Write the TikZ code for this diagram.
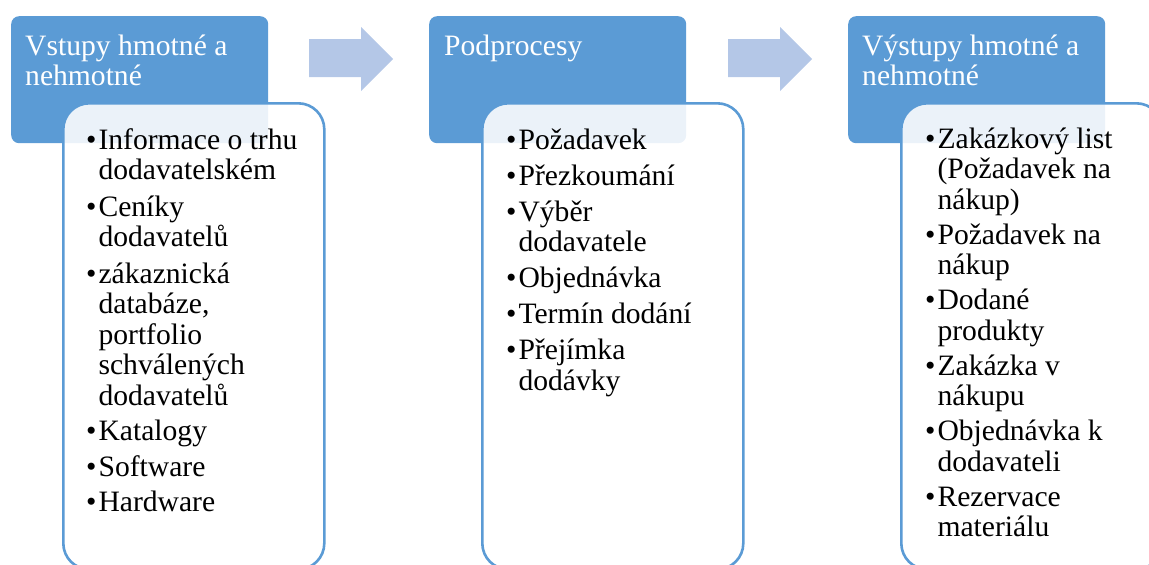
\documentclass[tikz,border=0pt]{standalone}
\usepackage{fontspec}
\setmainfont{Liberation Serif}
\definecolor{hdrblue}{HTML}{5B9BD5}
\definecolor{arrowblue}{HTML}{B4C7E7}
\newcommand\lbul{\textbullet\kern2pt}
\newcommand\lind{\phantom{\textbullet\kern2pt}}
\newcommand\firstline{\rule{0pt}{30pt}}
\tikzset{
  header/.style={draw=none, fill=hdrblue, rounded corners=8pt, anchor=north west,
    minimum width=257pt, minimum height=127pt, inner sep=0pt},
  listbox/.style={draw=hdrblue, line width=2.6pt, fill=white, fill opacity=0.88,
    rounded corners=26pt, anchor=north west, minimum width=261pt, minimum height=466pt,
    inner sep=0pt},
  htext/.style={text=white, anchor=north west, inner sep=0pt, align=left,
    font=\fontsize{29.6}{30}\selectfont},
  ltext/.style={text=black, anchor=north west, inner sep=0pt, align=left,
    font=\fontsize{29.6}{30.5}\selectfont},
  flow/.style={fill=arrowblue, draw=none}
}
\begin{document}
\begin{tikzpicture}[x=1pt, y=-1pt]
\useasboundingbox (0,0) rectangle (1149,565);
\clip (0,0) rectangle (1149,565);

% header blocks
\node[header] (h1) at (11,16) {};
\node[header] (h2) at (429,16) {};
\node[header] (h3) at (848,16) {};

% list panels laid over the headers
\node[listbox] (b1) at (62,102) {};
\node[listbox] (b2) at (481,102) {};
\node[listbox] (b3) at (900,102) {};

% block arrows between the stages
\fill[flow] (309,39) -- (361,39) -- (361,27) -- (393,59) -- (361,91) -- (361,77) -- (309,77) -- cycle;
\fill[flow] (728,39) -- (780,39) -- (780,27) -- (812,59) -- (780,91) -- (780,77) -- (728,77) -- cycle;

% header titles
\node[htext] (t1) at (25,25) {\firstline Vstupy hmotné a\\nehmotné};
\node[htext] (t2) at (444,25) {\firstline Podprocesy};
\node[htext] (t3) at (862,25) {\firstline Výstupy hmotné a\\nehmotné};

% list contents
\node[ltext] (l1) at (86,119) {\firstline\lbul Informace o trhu\\
  \lind dodavatelském\\[6pt]
  \lbul Ceníky\\
  \lind dodavatelů\\[6pt]
  \lbul zákaznická\\
  \lind databáze,\\
  \lind portfolio\\
  \lind schválených\\
  \lind dodavatelů\\[5pt]
  \lbul Katalogy\\[5pt]
  \lbul Software\\[5pt]
  \lbul Hardware};

\node[ltext] (l2) at (506,119) {\firstline\lbul Požadavek\\[5.5pt]
  \lbul Přezkoumání\\[5.5pt]
  \lbul Výběr\\
  \lind dodavatele\\[5.5pt]
  \lbul Objednávka\\[5.5pt]
  \lbul Termín dodání\\[5.5pt]
  \lbul Přejímka\\
  \lind dodávky};

\node[ltext] (l3) at (925,118) {\firstline\lbul Zakázkový list\\
  \lind (Požadavek na\\
  \lind nákup)\\[4.5pt]
  \lbul Požadavek na\\
  \lind nákup\\[4.5pt]
  \lbul Dodané\\
  \lind produkty\\[4.5pt]
  \lbul Zakázka v\\
  \lind nákupu\\[4.5pt]
  \lbul Objednávka k\\
  \lind dodavateli\\[4.5pt]
  \lbul Rezervace\\
  \lind materiálu};
\end{tikzpicture}
\end{document}
